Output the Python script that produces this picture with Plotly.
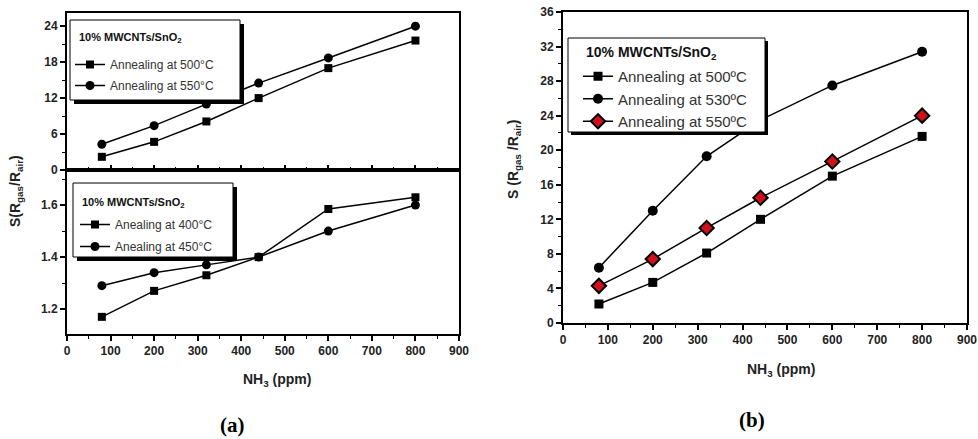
import plotly.graph_objects as go

# ---------------- data ----------------
nh3_ppm = [80, 200, 320, 440, 600, 800]

# panel (a) top
a_top_500 = [2.2, 4.7, 8.1, 12.0, 17.0, 21.6]
a_top_550 = [4.3, 7.4, 11.0, 14.5, 18.7, 24.0]
# panel (a) bottom
a_bot_400 = [1.17, 1.27, 1.33, 1.40, 1.585, 1.63]
a_bot_450 = [1.29, 1.34, 1.37, 1.40, 1.50, 1.60]
# panel (b)
b_500 = [2.2, 4.7, 8.1, 12.0, 17.0, 21.6]
b_530 = [6.4, 13.0, 19.3, 23.5, 27.5, 31.4]
b_550 = [4.3, 7.4, 11.0, 14.5, 18.7, 24.0]

legend_title = "<b>10% MWCNTs/SnO<sub>2</sub></b>"
names_a_top = ["Annealing at 500°C", "Annealing at 550°C"]
names_a_bot = ["Anealing at 400°C", "Anealing at 450°C"]
names_b = ["Annealing at 500ºC", "Annealing at 530ºC", "Annealing at 550ºC"]

# the page body margin is removed (see post_script), figure fills the window
W, H = 978, 439
def px(x):
    return x / W
def py(y):
    return 1 - y / H

FONT = "Liberation Sans, Arial, sans-serif"
fig = go.Figure()

line = dict(color="black", width=1.5)

def add(xv, yv, name, sym, size, xa, ya, leg, grp, color="black", mline=None):
    mk = dict(symbol=sym, size=size, color=color)
    if mline:
        mk["line"] = mline
    fig.add_trace(go.Scatter(x=xv, y=yv, name=name, mode="lines+markers", line=line,
                             marker=mk, xaxis=xa, yaxis=ya, legend=leg, legendgroup=grp))

add(nh3_ppm, a_top_500, names_a_top[0], "square", 8, "x", "y", "legend", "a1")
add(nh3_ppm, a_top_550, names_a_top[1], "circle", 9, "x", "y", "legend", "a2")
add(nh3_ppm, a_bot_400, names_a_bot[0], "square", 8, "x2", "y2", "legend2", "b1")
add(nh3_ppm, a_bot_450, names_a_bot[1], "circle", 9, "x2", "y2", "legend2", "b2")
add(nh3_ppm, b_500, names_b[0], "square", 9, "x3", "y3", "legend3", "c1")
add(nh3_ppm, b_530, names_b[1], "circle", 10, "x3", "y3", "legend3", "c2")
add(nh3_ppm, b_550, names_b[2], "diamond", 11, "x3", "y3", "legend3", "c3",
    color="#d0101a", mline=dict(color="black", width=2))

common_axis = dict(showline=True, linecolor="black", linewidth=2, mirror=True, automargin=False,
                   showgrid=False, zeroline=False, ticks="outside", ticklen=5, tickwidth=1.5,
                   tickcolor="black", ticklabeloverflow="allow",
                   tickfont=dict(family=FONT, size=12, color="#222", weight="bold"))
minor = dict(ticks="outside", ticklen=3, tickwidth=1.2, tickcolor="black")

xa_dom = [px(67), px(459)]
xb_dom = [px(563), px(967)]

leg_common = dict(xanchor="left", yanchor="top", bgcolor="rgba(0,0,0,0)", borderwidth=0,
                  itemwidth=30)

fig.update_layout(
    width=W, height=H, margin=dict(l=0, r=0, t=0, b=0, autoexpand=False),
    paper_bgcolor="white", plot_bgcolor="white",
    xaxis=dict(common_axis, domain=xa_dom, range=[0, 900], anchor="y", showticklabels=False,
               dtick=100, minor=dict(minor, dtick=50, ticks="inside"), ticks="inside"),
    yaxis=dict(common_axis, domain=[py(170), py(13)], range=[0, 26.2], anchor="x",
               dtick=6, minor=dict(minor, dtick=3)),
    xaxis2=dict(common_axis, domain=xa_dom, range=[0, 900], anchor="y2",
                dtick=100, minor=dict(minor, dtick=50)),
    yaxis2=dict(common_axis, domain=[py(334), py(170)], range=[1.104, 1.735], anchor="x2",
                tickvals=[1.2, 1.4, 1.6], ticktext=["1.2", "1.4", "1.6"],
                minor=dict(minor, tickvals=[1.3, 1.5, 1.7])),
    xaxis3=dict(common_axis, domain=xb_dom, range=[0, 900], anchor="y3",
                dtick=100, minor=dict(minor, dtick=50)),
    yaxis3=dict(common_axis, domain=[py(323), py(12)], range=[0, 36], anchor="x3",
                dtick=4, minor=dict(minor, dtick=2)),
    legend=dict(leg_common, x=px(70), y=py(50), tracegroupgap=2,
                font=dict(family=FONT, size=12, color="#333")),
    legend2=dict(leg_common, x=px(75), y=py(210), tracegroupgap=3,
                 font=dict(family=FONT, size=12, color="#333")),
    legend3=dict(leg_common, x=px(578), y=py(60), tracegroupgap=0,
                 font=dict(family=FONT, size=15, color="#333")),
    showlegend=True,
)

def note(text, x, y, size, family=FONT, angle=0, xanchor="center", color="#222"):
    return dict(text=text, x=px(x), y=py(y), xref="paper", yref="paper", xanchor=xanchor,
                yanchor="middle", textangle=angle, showarrow=False,
                font=dict(family=family, size=size, color=color))

SERIF = "Liberation Serif, Times New Roman, serif"
ann = [
    note("<b>S(R<sub>gas</sub>/R<sub>air</sub>)</b>", 16, 191, 14, angle=-90),
    note("<b>S (R<sub>gas</sub> /R<sub>air</sub>)</b>", 514, 160, 14, angle=-90),
    note("<b>NH<sub>3</sub> (ppm)</b>", 277, 380, 14),
    note("<b>NH<sub>3</sub> (ppm)</b>", 781, 370, 14),
    note("<b>(a)</b>", 232, 425, 21, family=SERIF, color="black"),
    note("<b>(b)</b>", 752, 420, 21, family=SERIF, color="black"),
    # legend titles
    note(legend_title, 77, 38, 11, xanchor="left", color="#111"),
    note(legend_title, 80, 203, 11, xanchor="left", color="#111"),
    note(legend_title, 584, 53, 14, xanchor="left", color="#111"),
]
fig.update_layout(annotations=ann)

# legend boxes with drop shadows
def box(x0, y0, x1, y1, s=4):
    return [
        dict(type="rect", xref="paper", yref="paper", x0=px(x0 + s), x1=px(x1 + s),
             y0=py(y1 + s), y1=py(y0 + s), fillcolor="black", line=dict(width=0), layer="above"),
        dict(type="rect", xref="paper", yref="paper", x0=px(x0), x1=px(x1),
             y0=py(y1), y1=py(y0), fillcolor="white", line=dict(color="black", width=1), layer="above"),
    ]
shapes = []
shapes += box(70, 20, 240, 100)
shapes += box(73, 183, 233, 257)
shapes += box(568, 38, 765, 132, s=3)
fig.update_layout(shapes=shapes)

fig.write_html(
    "out.html",
    config={"displayModeBar": False},
    post_script="document.body.style.margin='0';document.body.style.overflow='hidden';",
)
